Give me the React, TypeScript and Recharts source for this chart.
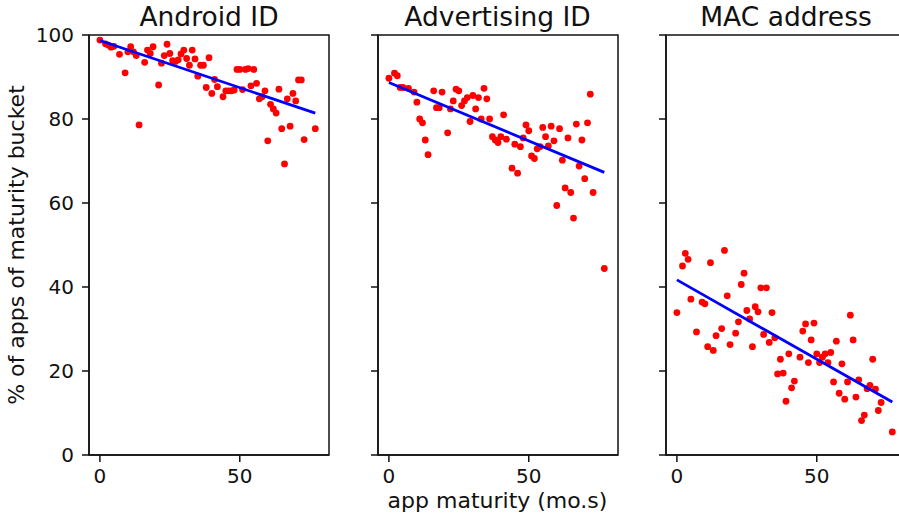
import React from 'react';
import { ScatterChart, Scatter, XAxis, YAxis, ReferenceArea } from 'recharts';

// app maturity in months, shared by all three panels
const months = [
  0, 2, 3, 4, 5, 7, 9, 10, 11, 12, 13, 14, 16, 17, 18, 19,
  21, 22, 23, 24, 25, 26, 27, 28, 29, 30, 31, 32, 33, 34, 35, 36, 37, 38, 39, 40, 41, 42,
  44, 45, 46, 47, 48, 49, 50, 51, 52, 53, 54, 55, 56, 57, 58, 59, 60, 61, 62, 63, 64, 65,
  66, 67, 68, 69, 70, 71, 72, 73, 77,
];

const androidId = [
  98.8, 97.9, 97.6, 97.1, 97.3, 95.4, 91.0, 96.0, 97.2, 96.0, 95.1, 78.6, 93.5, 96.4, 95.6, 97.2,
  88.1, 93.3, 95.1, 97.8, 95.6, 93.9, 93.7, 94.1, 95.5, 96.4, 94.4, 92.8, 96.4, 94.3, 90.2, 92.8,
  92.8, 87.5, 94.6, 86.1, 89.4, 87.7,
  85.3, 86.7, 86.7, 86.7, 86.9, 91.8, 91.8, 87.0, 91.8, 92.0, 87.9, 91.8, 88.5, 84.8, 85.3, 86.7,
  74.8, 83.5, 82.4, 81.4, 87.1, 77.7, 69.3, 84.8, 78.3, 86.1, 84.3, 89.3, 89.3, 75.1, 77.7,
];

const advertisingId = [
  89.7, 90.9, 90.3, 87.5, 87.5, 87.3, 86.4, 84.0, 80.0, 79.1, 75.0, 71.5, 86.7, 82.7, 82.7, 86.4,
  76.7, 82.4, 84.3, 87.1, 86.7, 83.2, 84.3, 85.1, 79.4, 85.6, 82.4, 85.1, 80.0, 87.3, 84.8, 80.0,
  75.8, 75.0, 74.4, 75.8, 81.0, 75.2,
  68.3, 74.0, 67.1, 73.4, 75.5, 78.6, 77.2, 71.2, 70.6, 72.9, 73.4, 78.0, 75.8, 73.6, 78.3, 74.8,
  59.4, 77.7, 70.2, 63.6, 75.5, 62.5, 56.4, 78.8, 68.8, 75.0, 65.8, 79.1, 85.9, 62.5, 44.4,
];

const macAddress = [
  33.9, 45.0, 48.0, 46.6, 37.1, 29.3, 36.4, 36.0, 25.8, 45.8, 24.9, 28.4, 30.1, 48.7, 37.9, 26.3,
  29.0, 31.7, 40.6, 43.3, 34.4, 32.4, 25.8, 35.3, 34.1, 39.8, 28.7, 39.8, 26.8, 33.9, 27.9, 19.3,
  22.8, 19.5, 12.8, 24.1, 16.0, 17.6,
  23.3, 29.5, 31.2, 22.0, 27.4, 31.4, 24.1, 22.0, 23.3, 24.1, 22.0, 24.4, 17.4, 27.1, 14.7, 21.7,
  13.3, 17.4, 33.3, 27.4, 13.8, 17.9, 8.2, 9.5, 15.8, 16.6, 22.8, 15.7, 10.6, 12.5, 5.5,
];

// end points of the fitted trend lines
const fitX = [0, 77];
const androidFit = [98.7, 81.4];
const advertisingFit = [88.7, 67.3];
const macFit = [41.7, 12.6];

const titles = ['Android ID', 'Advertising ID', 'MAC address'];
const xTicks = [0, 50];
const yTicks = [0, 20, 40, 60, 80, 100];

const FONT = 'DejaVu Sans, sans-serif';
const X_DOMAIN: [number, number] = [-3.9, 81.9];
const PLOT_W = 240;
const Y_AXIS_W = 60;
const panelLefts = [89, 377.5, 666];

const Dot = (props: any) => <circle cx={props.cx} cy={props.cy} r={3.4} fill="#ff0000" />;

type PanelProps = { values: number[]; fit: number[]; left: number; showYLabels: boolean };

const Panel = ({ values, fit, left, showYLabels }: PanelProps) => {
  const pts = months.map((m, i) => ({ x: m, y: values[i] }));
  const fitPts = fitX.map((m, i) => ({ x: m, y: fit[i] }));
  return (
    <div style={{ position: 'absolute', left: left - Y_AXIS_W, top: 0 }}>
      <ScatterChart
        width={Y_AXIS_W + PLOT_W + 10}
        height={518}
        margin={{ top: 35, right: 10, bottom: 23, left: 0 }}
      >
        <XAxis
          type="number"
          dataKey="x"
          domain={X_DOMAIN}
          allowDataOverflow
          ticks={xTicks}
          height={40}
          tickSize={7}
          tickMargin={7}
          stroke="#111"
          strokeWidth={1.5}
          tick={{ fill: '#111', fontSize: 20, fontFamily: FONT }}
        />
        <YAxis
          type="number"
          dataKey="y"
          domain={[0, 100]}
          allowDataOverflow
          ticks={yTicks}
          width={Y_AXIS_W}
          tickSize={7}
          tickMargin={8}
          stroke="#111"
          strokeWidth={1.5}
          tickFormatter={(v: number) => (showYLabels ? String(v) : '')}
          tick={{ fill: '#111', fontSize: 20, fontFamily: FONT }}
        />
        <ReferenceArea
          x1={X_DOMAIN[0]}
          x2={X_DOMAIN[1]}
          y1={0}
          y2={100}
          fill="none"
          stroke="#111"
          strokeWidth={1.5}
        />
        <Scatter data={pts} shape={Dot} isAnimationActive={false} />
        <Scatter
          data={fitPts}
          line={{ stroke: '#0000ff', strokeWidth: 2.8 }}
          shape={() => <g />}
          isAnimationActive={false}
        />
      </ScatterChart>
    </div>
  );
};

export default function App() {
  const series = [androidId, advertisingId, macAddress];
  const fits = [androidFit, advertisingFit, macFit];
  return (
    <div
      style={{
        position: 'absolute',
        left: 0,
        top: 0,
        width: 899,
        height: 518,
        overflow: 'hidden',
        background: '#fff',
        fontFamily: FONT,
      }}
    >
      {series.map((vals, i) => (
        <Panel key={i} values={vals} fit={fits[i]} left={panelLefts[i]} showYLabels={i === 0} />
      ))}
      <svg
        width={899}
        height={518}
        style={{ position: 'absolute', left: 0, top: 0, pointerEvents: 'none' }}
        fontFamily={FONT}
      >
        {titles.map((t, i) => (
          <text key={t} x={panelLefts[i] + PLOT_W / 2} y={26} fontSize={26.5} textAnchor="middle" fill="#111">
            {t}
          </text>
        ))}
        <text x={panelLefts[1] + PLOT_W / 2} y={508} fontSize={22} textAnchor="middle" fill="#111">
          app maturity (mo.s)
        </text>
        <text transform="translate(24,245) rotate(-90)" fontSize={22} textAnchor="middle" fill="#111">
          % of apps of maturity bucket
        </text>
      </svg>
    </div>
  );
}
